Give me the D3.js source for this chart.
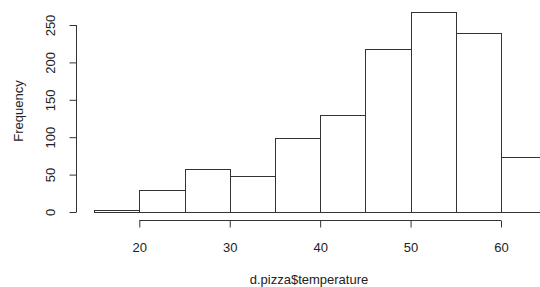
<!DOCTYPE html>
<html><head><meta charset="utf-8">
<script src="https://cdn.jsdelivr.net/npm/d3@7"></script>
<style>body{margin:0;background:#fff}svg{display:block}text{font-family:"Liberation Sans",Arial,sans-serif;fill:#222}</style>
</head><body>
<script>
const binStarts = [15,20,25,30,35,40,45,50,55,60];
const binWidth = 5;
const counts = [3,29,57,48,99,130,218,267,239,73];
const xTicks = [20,30,40,50,60];
const yTicks = [0,50,100,150,200,250];
const xLabel = "d.pizza$temperature";
const yLabel = "Frequency";

const W=540,H=287;
const svg=d3.select("body").append("svg").attr("width",W).attr("height",H);
const x=d3.scaleLinear().domain([20,60]).range([139.3,501]);
const y=d3.scaleLinear().domain([0,250]).range([212,25]);
const stroke="#333";

svg.append("g").selectAll("rect").data(binStarts).join("rect")
  .attr("x",(d)=>Math.round(x(d))+0.5)
  .attr("y",(d,i)=>Math.round(y(counts[i]))+0.5)
  .attr("width",(d)=>Math.round(x(d+binWidth))-Math.round(x(d)))
  .attr("height",(d,i)=>Math.round(y(0))-Math.round(y(counts[i])))
  .attr("fill","#fff").attr("stroke",stroke).attr("stroke-width",1);

// y axis
const ya=svg.append("g").attr("transform","translate(76.5,0)")
  .call(d3.axisLeft(y).tickValues(yTicks).tickSize(7).tickSizeOuter(0).tickFormat(d3.format("d")));
ya.select(".domain").attr("d",`M0,${y(0)}V${y(250)}`).attr("stroke",stroke);
ya.selectAll(".tick line").attr("stroke",stroke);
ya.selectAll(".tick text").attr("transform","rotate(-90)").attr("x",0).attr("y",-22)
  .attr("dy",0).attr("text-anchor","middle").style("font-size","13px").attr("fill","#222");

// x axis
const xa=svg.append("g").attr("transform","translate(0,220.5)")
  .call(d3.axisBottom(x).tickValues(xTicks).tickSize(7).tickSizeOuter(0).tickFormat(d3.format("d")));
xa.select(".domain").attr("d",`M${x(20)},0H${x(60)}`).attr("stroke",stroke);
xa.selectAll(".tick line").attr("stroke",stroke);
xa.selectAll(".tick text").attr("y",31).attr("dy",0).style("font-size","13px").attr("fill","#222");
ya.attr("font-family",null); xa.attr("font-family",null);

svg.append("text").attr("x",309).attr("y",284).attr("text-anchor","middle").style("font-size","13px").text(xLabel);
svg.append("text").attr("transform","translate(23,111) rotate(-90)").attr("text-anchor","middle").style("font-size","13px").text(yLabel);
</script>
</body></html>
